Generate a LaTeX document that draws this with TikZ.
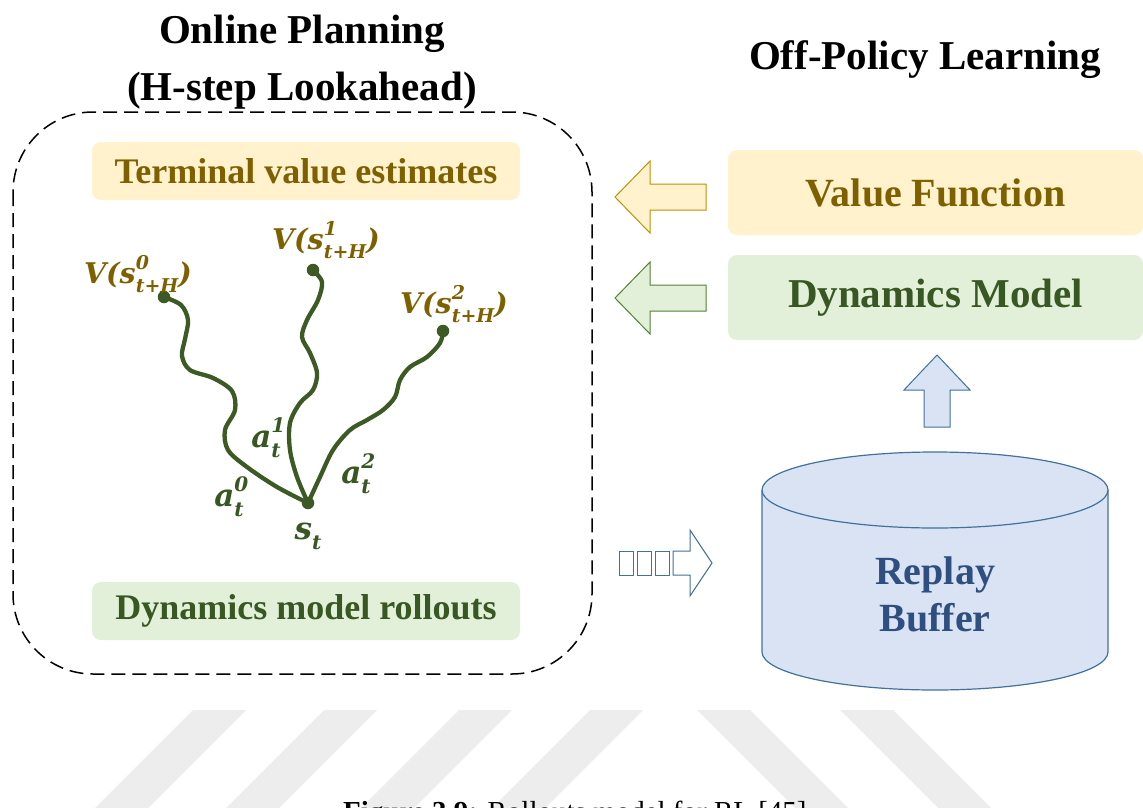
\documentclass[tikz,border=0pt]{standalone}
\usepackage{fontspec}
\setmainfont{Liberation Serif}
\newfontfamily\symfont{DejaVu Serif}

\definecolor{brownText}{HTML}{7F6000}
\definecolor{greenText}{HTML}{385723}
\definecolor{blueText}{HTML}{2F4F80}
\definecolor{yellowFill}{HTML}{FFF2CC}
\definecolor{greenFill}{HTML}{E2F0D9}
\definecolor{blueFill}{HTML}{DAE3F3}
\definecolor{yellowLine}{HTML}{BF9000}
\definecolor{greenLine}{HTML}{548235}
\definecolor{blueLine}{HTML}{41719C}
\definecolor{trajColor}{HTML}{3D5A25}
\definecolor{markGray}{HTML}{EDEDED}

% superscript stacked over subscript: [size]{sup}{sub}
\newcommand{\supsub}[3][17]{%
  \rlap{\raisebox{0.48em}{\fontsize{#1}{#1}\selectfont #2}}%
  \raisebox{-0.32em}{\fontsize{#1}{#1}\selectfont #3}}

\tikzset{
  titletext/.style={font=\fontsize{41}{48}\selectfont\bfseries, text=black, inner sep=0pt},
  panel/.style={rounded corners=9pt, inner sep=0pt, font=\bfseries},
  yellowpanel/.style={panel, fill=yellowFill, text=brownText},
  greenpanel/.style={panel, fill=greenFill, text=greenText},
  blockarrow/.style={line width=1pt, line join=miter},
  traj/.style={draw=trajColor, line width=4.3pt, line cap=round, line join=round},
  endpoint/.style={circle, fill=trajColor, minimum size=12.5pt, inner sep=0pt},
  vlabel/.style={text=brownText, font=\fontsize{28.5}{32}\selectfont\symfont\bfseries\itshape, inner sep=0pt},
  alabel/.style={text=greenText, font=\fontsize{31}{34}\selectfont\symfont\bfseries\itshape, inner sep=0pt},
  stripe/.style={fill=markGray},
}

\begin{document}
\begin{tikzpicture}[x=1pt, y=-1pt]
\useasboundingbox (0,0) rectangle (1143,808);
\clip (0,0) rectangle (1143,808);
\fill[white] (0,0) rectangle (1143,808);

% faint diagonal stripes at the foot of the page
\foreach \l in {193,324,459,590}
  \fill[stripe] (\l,710) -- (\l+53,710) -- (\l+53-110,820) -- (\l-110,820) -- cycle;
\foreach \l in {697,840}
  \fill[stripe] (\l,710) -- (\l+53,710) -- (\l+53+110,820) -- (\l+110,820) -- cycle;

% headings
\node[titletext, anchor=base] (hOnline) at (302,44) {Online Planning};
\node[titletext, anchor=base] (hLook) at (302,100) {(H-step Lookahead)};
\node[titletext, anchor=base] (hOff) at (925,70) {Off-Policy Learning};

% planning frame
\draw[dashed, dash pattern=on 14pt off 7pt, line width=1.5pt, rounded corners=80pt]
  (13,112) rectangle (592,674);

\node[yellowpanel, minimum width=428pt, minimum height=58pt,
      font=\fontsize{36}{42}\selectfont\bfseries] (terminal) at (306,171) {Terminal value estimates};
\node[greenpanel, minimum width=428pt, minimum height=58pt,
      font=\fontsize{36}{42}\selectfont\bfseries] (rollouts) at (306,611) {Dynamics model rollouts};

% rollout tree
\node[endpoint] (root) at (308,503) {};
\node[endpoint] (e0) at (164,297) {};
\node[endpoint] (e1) at (313,270) {};
\node[endpoint] (e2) at (443,331) {};

\draw[traj] plot[smooth, tension=0.55] coordinates {
  (root.center) (277,487) (247,467) (228,450) (225,430) (235,410) (232,391) (213,378)
  (190,370) (182,356) (185,339) (188,320) (181,305) (e0.center)};
\draw[traj] plot[smooth, tension=0.55] coordinates {
  (root.center) (297,477) (290,450) (290,423) (300,403) (313,390) (317,373) (310,353)
  (302,337) (307,320) (318,300) (322,282) (e1.center)};
\draw[traj] plot[smooth, tension=0.55] coordinates {
  (root.center) (320,477) (333,450) (350,430) (367,420) (383,410) (395,397) (400,380)
  (410,367) (427,357) (440,343) (e2.center)};

\node[vlabel] (v0) at (138,274) {V(s\supsub[19]{0}{t+H})};
\node[vlabel] (v1) at (326,240) {V(s\supsub[19]{1}{t+H})};
\node[vlabel] (v2) at (454,304) {V(s\supsub[19]{2}{t+H})};
\node[alabel] (a0) at (229,497) {a\supsub[20]{0}{t}};
\node[alabel] (a1) at (266,438) {a\supsub[20]{1}{t}};
\node[alabel] (a2) at (356,474) {a\supsub[20]{2}{t}};
\node[alabel] (st) at (308,536) {s\supsub[20]{}{t}};

% learned components
\node[yellowpanel, minimum width=415pt, minimum height=85pt,
      font=\fontsize{40}{46}\selectfont\bfseries] (value) at (935.5,192.5) {Value Function};
\node[greenpanel, minimum width=415pt, minimum height=85pt,
      font=\fontsize{41}{46}\selectfont\bfseries] (dyn) at (935.5,297.5) {Dynamics Model};

% block arrows towards the planner
\filldraw[blockarrow, fill=yellowFill, draw=yellowLine]
  (615,197) -- (650,161) -- (650,184) -- (706,184) -- (706,210) -- (650,210) -- (650,233) -- cycle;
\filldraw[blockarrow, fill=greenFill, draw=greenLine]
  (615,298) -- (650,262) -- (650,285) -- (706,285) -- (706,311) -- (650,311) -- (650,334) -- cycle;

% replay buffer cylinder
\fill[blueFill] (762,490) rectangle (1108,652);
\fill[blueFill] (935,652) ellipse [x radius=173, y radius=38];
\draw[blueLine, line width=1.2pt]
  (762,490) -- (762,652) arc[start angle=180, end angle=0, x radius=173, y radius=38] -- (1108,490);
\draw[blueLine, line width=1.2pt, fill=blueFill] (935,490) ellipse [x radius=173, y radius=38];
\node[text=blueText, align=center, inner sep=0pt,
      font=\fontsize{40}{47}\selectfont\bfseries] (buffer) at (935,594) {Replay\\Buffer};

% arrow from buffer to dynamics model
\filldraw[blockarrow, fill=blueFill, draw=blueLine]
  (937,355) -- (970,390) -- (950,390) -- (950,427) -- (924,427) -- (924,390) -- (904,390) -- cycle;

% experience stream into the buffer
\foreach \x in {619,637,655}
  \draw[blueLine, line width=1pt] (\x,551) rectangle (\x+14,575);
\draw[blockarrow, blueLine]
  (673,551) -- (690,551) -- (690,530) -- (712,563) -- (690,596) -- (690,575) -- (673,575) -- cycle;

% caption
\node[anchor=base west, inner sep=0pt, font=\fontsize{29}{34}\selectfont] (caption) at (343,821)
  {\textbf{Figure 3.9:} Rollouts model for RL [45]};
\end{tikzpicture}
\end{document}
